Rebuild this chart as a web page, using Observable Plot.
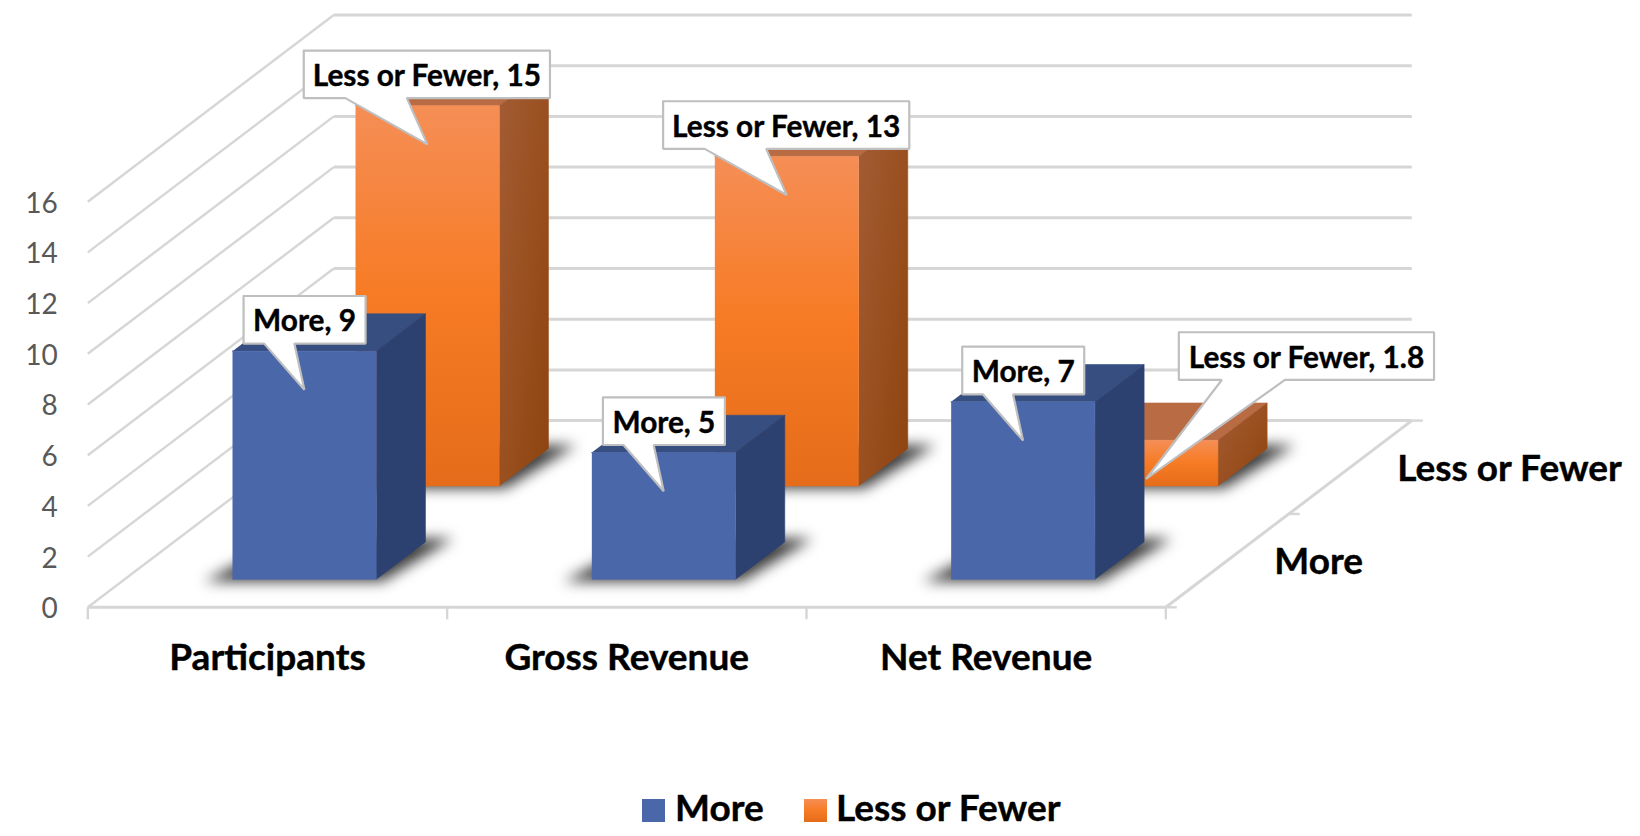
<!DOCTYPE html>
<html><head><meta charset="utf-8">
<script src="https://cdn.jsdelivr.net/npm/d3@7"></script>
<script src="https://cdn.jsdelivr.net/npm/@observablehq/plot@0.6"></script>
<style>
html,body{margin:0;padding:0;background:#fff;overflow:hidden;width:1640px;height:836px}
#legend{position:absolute;left:0;top:790px;width:1640px;height:46px;font:bold 37px Lato,sans-serif;color:#000;-webkit-text-stroke:0.4px #000}
#legend i{position:absolute;top:9px;width:23px;height:23px;display:block}
#legend span{position:absolute;top:-3px;line-height:40px;white-space:nowrap}
</style></head><body>
<div id="chart"></div>
<div id="legend"></div>
<script>
// Chart values
const categories = ["Participants", "Gross Revenue", "Net Revenue"];
const seriesNames = ["More", "Less or Fewer"];
const moreValues = [9, 5, 7];
const lessValues = [15, 13, 1.8];
const yTicks = [0, 2, 4, 6, 8, 10, 12, 14, 16];

// Layout of the oblique projection: depth 0..1 shifts in category and value units
const W = 1640, H = 790;
const KX = 246 / 359.33, KY = 186.7 / 25.35;
const PX = 1 / 359.33, PY = 1 / 25.35;
const project = (c, d, v) => ({x: c + KX * d, y: v + KY * d});

const poly = (id, fill, pts) => pts.map(([c, d, v]) => ({id, fill, ...project(c, d, v)}));

const series = [
  {name: "Less or Fewer", depth: 0.75, values: lessValues, front: "url(#oFront)", side: "url(#oSide)", top: "#B96B44"},
  {name: "More", depth: 0.25, values: moreValues, front: "#4A67A9", side: "#2D4170", top: "#364E80"}
];

const faces = [], shadows = [], boxes = [], labels = [];
for (const s of series) {
  s.values.forEach((v, i) => {
    const x0 = i + 0.3, x1 = i + 0.7, d0 = s.depth - 0.1, d1 = s.depth + 0.1;
    const k = s.name + i;
    shadows.push(...poly(k, "#3c3c3c", [[x0 - 0.07, d0 - 0.012, 0], [x1 + 0.025, d0 - 0.012, 0], [x1 + 0.065, d1 + 0.018, 0], [x0, d1 + 0.018, 0]]));
    faces.push(...poly(k + "t", s.top, [[x0, d0, v], [x1, d0, v], [x1, d1, v], [x0, d1, v]]));
    faces.push(...poly(k + "s", s.side, [[x1, d0, 0], [x1, d1, 0], [x1, d1, v], [x1, d0, v]]));
    faces.push(...poly(k + "f", s.front, [[x0, d0, 0], [x1, d0, 0], [x1, d0, v], [x0, d0, v]]));
    // callout geometry, in pixels from the tail tip
    const long = s.name !== "More";
    const far = s.values === lessValues && i === 2;
    const L = far ? 32.8 : long ? -123.6 : -60.8, R = far ? 288 : long ? 122.6 : 61.2;
    const T = far ? -146.7 : -93.8, B = far ? -99 : -46.2;
    const b0 = far ? 75.7 : long ? -82 : -40.2, b1 = far ? 138.8 : long ? -20.5 : -10;
    const tip = project(i + 0.5, d0, v - 1.525);
    const at = (dx, dy) => ({id: k, x: tip.x + dx * PX, y: tip.y - dy * PY});
    boxes.push(at(L, T), at(R, T), at(R, B), at(b1, B), at(0, 0), at(b0, B), at(L, B), at(L, T));
    labels.push({...at((L + R) / 2, (T + B) / 2), text: `${s.name}, ${v}`});
  });
}

const seg = (id, a, b) => [{id, ...project(...a)}, {id, ...project(...b)}];
const sideLines = yTicks.flatMap(v => seg("s" + v, [0, 0, v], [0, 1, v]));
const backLines = yTicks.flatMap(v => seg("b" + v, [0, 1, v], [3, 1, v]));
const floorLines = [...seg("f", [0, 0, 0], [3, 0, 0]), ...seg("r", [3, 0, 0], [3, 1, 0])];
const xTickLines = [0, 1, 2, 3].flatMap(c => seg("x" + c, [c, 0, 0], [c, 0, -12 * PY]));
const zTickLines = [0, 0.5, 1].flatMap(d => seg("z" + d, [3, d, 0], [3 + 11 * PX, d, 0]));

const defs = () => {
  const g = d3.create("svg:defs");
  const grad = (id, attrs, stops) => {
    const l = g.append("linearGradient").attr("id", id);
    Object.entries(attrs).forEach(([k, v]) => l.attr(k, v));
    stops.forEach(([o, c]) => l.append("stop").attr("offset", o).attr("stop-color", c));
  };
  grad("oFront", {x1: 0, y1: 0, x2: 0, y2: 1}, [[0, "#F58E56"], [0.5, "#F77B24"], [1, "#E56C1A"]]);
  grad("oSide", {x1: 0, y1: 0, x2: 1, y2: 1}, [[0, "#A35C35"], [0.5, "#9A5020"], [1, "#8E440F"]]);
  return g.node();
};

const grid = {x: "x", y: "y", z: "id", stroke: "#D6D6D6", strokeWidth: 3, strokeLinecap: "butt"};
const heavy = {fontWeight: "bold", fill: "#000", stroke: "#000", strokeWidth: 0.4};

const chart = Plot.plot({
  width: W, height: H,
  marginLeft: 87.3, marginRight: W - 1165.3, marginTop: 14.5, marginBottom: H - 606.8,
  x: {domain: [0, 3], axis: null},
  y: {domain: [0, 16 + KY], axis: null},
  style: {fontFamily: "Lato, sans-serif", background: "#fff", overflow: "visible"},
  marks: [
    defs,
    Plot.axisY({anchor: "left", ticks: yTicks, tickSize: 0, tickPadding: 30, fontSize: 28, dy: 2, fill: "#595959", label: null, tickFormat: d => String(d)}),
    Plot.line(sideLines, {...grid, strokeWidth: 2.4}),
    Plot.line(backLines, grid),
    Plot.line(floorLines, grid),
    Plot.line(xTickLines, {...grid, strokeWidth: 2.4}),
    Plot.line(zTickLines, {...grid, strokeWidth: 2.4}),
    Plot.line(shadows, {x: "x", y: "y", z: "id", fill: "#3c3c3c", stroke: "none", imageFilter: "blur(7px)"}),
    Plot.line(faces, {x: "x", y: "y", z: "id", fill: {value: "fill", scale: null}, stroke: {value: "fill", scale: null}, strokeWidth: 0.6}),
    Plot.line(boxes, {x: "x", y: "y", z: "id", fill: "#fff", stroke: "#BFBFBF", strokeWidth: 2.2, strokeLinejoin: "miter"}),
    Plot.text(labels, {x: "x", y: "y", text: "text", fontSize: 29.8, dy: 2, ...heavy}),
    Plot.text(categories, {x: (d, i) => i + 0.5, y: () => 0, text: d => d, dy: 51, fontSize: 37, ...heavy}),
    Plot.text(seriesNames, {
      x: (d, i) => project(3, 0.25 + 0.5 * i, 0).x,
      y: (d, i) => project(3, 0.25 + 0.5 * i, 0).y,
      text: d => d, textAnchor: "start", dx: 47, dy: 1.5, fontSize: 37, ...heavy
    })
  ]
});
document.getElementById("chart").appendChild(chart);

const legend = document.getElementById("legend");
const items = [
  {name: seriesNames[0], swatch: "#4A67A9", sx: 642, tx: 675},
  {name: seriesNames[1], swatch: "linear-gradient(#F58E56,#F77B24 50%,#E56C1A)", sx: 804, tx: 836}
];
for (const it of items) {
  const i = document.createElement("i");
  i.style.left = it.sx + "px"; i.style.background = it.swatch;
  const s = document.createElement("span");
  s.style.left = it.tx + "px"; s.textContent = it.name;
  legend.append(i, s);
}
</script>
</body></html>
